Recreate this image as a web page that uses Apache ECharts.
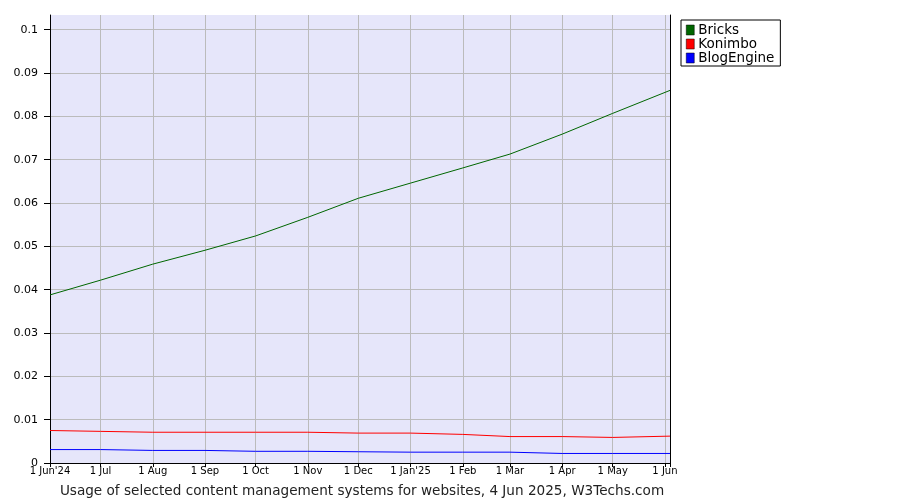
<!DOCTYPE html>
<html><head><meta charset="utf-8">
<script src="https://cdn.jsdelivr.net/npm/echarts@6/dist/echarts.min.js"></script>
<style>html,body{margin:0;padding:0;background:#fff}#c{width:900px;height:500px}</style>
</head><body><div id="c"></div>
<script>
const dates = ['2024-06-01','2024-07-01','2024-08-01','2024-09-01','2024-10-01','2024-11-01','2024-12-01','2025-01-01','2025-02-01','2025-03-01','2025-04-01','2025-05-01','2025-06-04'];
const bricks = [0.0388,0.0422,0.0459,0.0491,0.0524,0.0567,0.0611,0.0646,0.0681,0.0713,0.0759,0.0807,0.0860];
const konimbo = [0.0075,0.0073,0.0071,0.0071,0.0071,0.0071,0.0069,0.0069,0.0066,0.0061,0.0061,0.0059,0.0062];
const blogengine = [0.0031,0.0031,0.0029,0.0029,0.0027,0.0027,0.0026,0.0025,0.0025,0.0025,0.0022,0.0022,0.0022];
const monthNames = ['Jan','Feb','Mar','Apr','May','Jun','Jul','Aug','Sep','Oct','Nov','Dec'];
const yearTagged = {'2024-5':"1 Jun'24", '2025-0':"1 Jan'25"};

function pairs(v){ return dates.map((d,i)=>[d, v[i]]); }
const chart = echarts.init(document.getElementById('c'), null, {renderer:'canvas'});
const font = 'DejaVu Sans, Verdana, sans-serif';
chart.setOption({
  animation:false,
  backgroundColor:'#ffffff',
  grid:{left:50,right:230,top:15,bottom:37,show:true,backgroundColor:'#e6e6fa',borderWidth:0},
  title:{text:'Usage of selected content management systems for websites, 4 Jun 2025, W3Techs.com',
    left:357,top:479,textAlign:'center',textStyle:{fontFamily:font,fontSize:13.6,fontWeight:'normal',color:'#222'}},
  legend:{orient:'vertical',left:681,top:20,padding:[3,6,1,5],itemGap:0,itemWidth:8,itemHeight:10,
    borderColor:'#000',borderWidth:1,icon:'rect',
    textStyle:{fontFamily:font,fontSize:13.5,color:'#000',padding:[0,0,0,-1],lineHeight:13},
    data:[{name:'Bricks',itemStyle:{borderColor:'#000',borderWidth:0.5}},{name:'Konimbo',itemStyle:{borderColor:'#000',borderWidth:0.5}},{name:'BlogEngine',itemStyle:{borderColor:'#000',borderWidth:0.5}}]},
  xAxis:{type:'time',min:'2024-06-01',max:'2025-06-04',minInterval:28*86400000,maxInterval:31*86400000,
    axisLine:{lineStyle:{color:'#000',width:1}},
    axisTick:{show:true,length:4,lineStyle:{color:'#000'}},
    splitLine:{show:true,lineStyle:{color:'#bbbbbb',width:1}},
    axisLabel:{fontFamily:font,fontSize:10,color:'#000',margin:3,hideOverlap:false,showMinLabel:true,showMaxLabel:true,
      formatter:function(v){const d=new Date(v);const k=d.getFullYear()+'-'+d.getMonth();
        if(d.getDate()!==1) return '';
        return yearTagged[k] || ('1 '+monthNames[d.getMonth()]);}}},
  yAxis:[{type:'value',min:0,max:0.1034,interval:0.01,
    axisLine:{show:true,lineStyle:{color:'#000',width:1}},
    axisTick:{show:true,length:6,inside:false,lineStyle:{color:'#000'}},
    splitLine:{show:true,showMaxLine:false,lineStyle:{color:'#bbbbbb',width:1}},
    axisLabel:{fontFamily:font,fontSize:11,color:'#000',margin:12,showMaxLabel:false,
      formatter:function(v){const r=Math.round(v*100)/100; if(Math.abs(r-v)>1e-9) return ''; return String(r);}}},
    {type:'value',position:'right',min:0,max:0.1034,interval:0.01,
    axisLine:{show:true,lineStyle:{color:'#000',width:1}},axisTick:{show:false},axisLabel:{show:false},splitLine:{show:false}}],
  series:[
    {name:'Bricks',type:'line',data:pairs(bricks),showSymbol:false,lineStyle:{color:'#006600',width:1},itemStyle:{color:'#006600'}},
    {name:'Konimbo',type:'line',data:pairs(konimbo),showSymbol:false,lineStyle:{color:'#ff0000',width:1},itemStyle:{color:'#ff0000'}},
    {name:'BlogEngine',type:'line',data:pairs(blogengine),showSymbol:false,lineStyle:{color:'#0000ff',width:1},itemStyle:{color:'#0000ff'}}
  ]
});
</script></body></html>
